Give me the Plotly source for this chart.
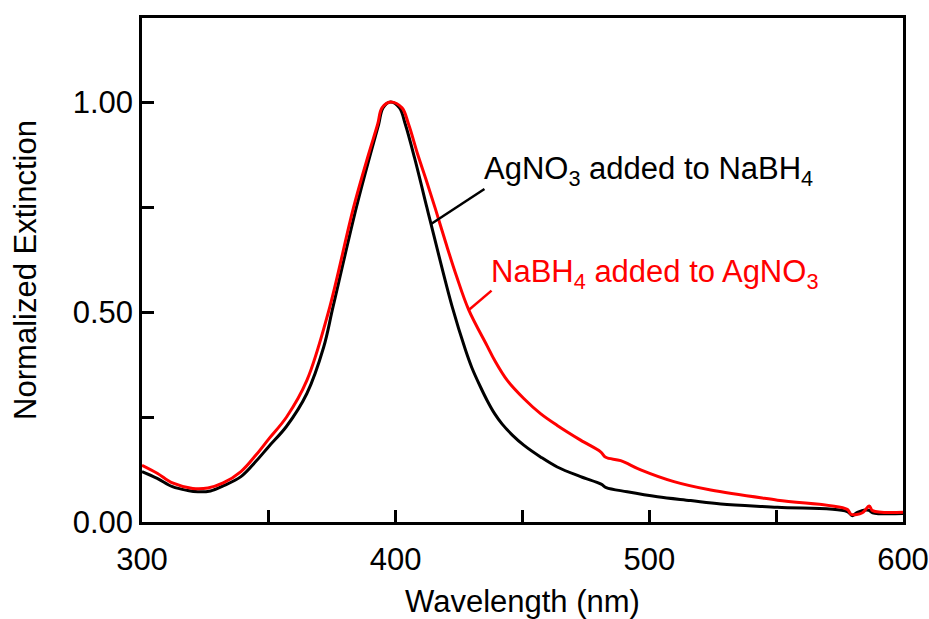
import plotly.graph_objects as go

# Wavelength (nm) / normalized extinction: AgNO3 added to NaBH4 (black)
wl_black = [300, 306, 312, 318, 322, 327, 332, 339, 345, 350, 357, 365, 371.6, 375.3,
            384.5, 390, 393.3, 395, 398, 401.5, 403.8, 407.4, 412.3, 413.7, 422.3, 427.5,
            430, 433.4, 436, 439, 442, 446, 450.5, 457.1, 463.7, 472.9, 481, 483, 491.3,
            503.2, 516.3, 528.2, 550.5, 578, 580, 582, 586.5, 588, 600]
ext_black = [0.120, 0.104, 0.084, 0.075, 0.072, 0.074, 0.086, 0.108, 0.145, 0.180, 0.228,
             0.306, 0.416, 0.512, 0.749, 0.875, 0.947, 0.986, 1.0, 0.986, 0.947, 0.868,
             0.749, 0.715, 0.512, 0.410, 0.368, 0.322, 0.290, 0.258, 0.233, 0.207, 0.183,
             0.155, 0.131, 0.108, 0.090, 0.082, 0.072, 0.060, 0.051, 0.043, 0.035, 0.025,
             0.015, 0.023, 0.028, 0.022, 0.020]

# NaBH4 added to AgNO3 (red)
wl_red = [300, 306, 312, 320, 326, 332, 339, 345, 350, 357, 365, 373.5, 383.4,
          389.3, 392.9, 394.6, 398, 402.5, 405.1, 408.7, 412, 415.7, 420, 424, 428.8, 436,
          439, 444, 450.5, 457.1, 463.7, 472.9, 480.8, 482.8, 488.7, 496.6, 509.7, 524.2,
          550.5, 578, 579.6, 584, 586.7, 588, 600]
ext_red = [0.135, 0.116, 0.093, 0.080, 0.081, 0.093, 0.120, 0.160, 0.198, 0.250, 0.337,
           0.500, 0.749, 0.875, 0.947, 0.986, 1.0, 0.986, 0.947, 0.875, 0.815, 0.745,
           0.660, 0.585, 0.505, 0.420, 0.385, 0.337, 0.294, 0.258, 0.230, 0.195, 0.167,
           0.154, 0.146, 0.124, 0.096, 0.076, 0.052, 0.030, 0.018, 0.022, 0.038, 0.027,
           0.023]

x_ticks = [300, 400, 500, 600]
y_ticks = [0.0, 0.5, 1.0]

FONT = "Liberation Sans, Arial, sans-serif"

fig = go.Figure()
fig.add_trace(go.Scatter(x=wl_black, y=ext_black, mode="lines",
                         line=dict(color="#000000", width=3, shape="spline", smoothing=1.0),
                         showlegend=False))
fig.add_trace(go.Scatter(x=wl_red, y=ext_red, mode="lines",
                         line=dict(color="#ff0000", width=3, shape="spline", smoothing=1.0),
                         showlegend=False))

# leader lines
fig.add_shape(type="line", xref="x", yref="y", x0=414.1, y0=0.71, x1=435.0, y1=0.793,
              line=dict(color="#000000", width=2.5))
fig.add_shape(type="line", xref="x", yref="y", x0=428.7, y0=0.504, x1=437.8, y1=0.551,
              line=dict(color="#ff0000", width=2.5))
# labels
fig.add_annotation(x=434.0, y=0.835, xanchor="left", yanchor="middle", showarrow=False,
                   text="AgNO<sub>3</sub> added to NaBH<sub>4</sub>",
                   font=dict(family=FONT, size=31, color="#000000"))
fig.add_annotation(x=436.6, y=0.59, xanchor="left", yanchor="middle", showarrow=False,
                   text="NaBH<sub>4</sub> added to AgNO<sub>3</sub>",
                   font=dict(family=FONT, size=31, color="#ff0000"))

fig.update_layout(
    width=929, height=619,
    margin=dict(l=142, r=26, t=18, b=97, autoexpand=False),
    paper_bgcolor="white", plot_bgcolor="white",
    font=dict(family=FONT, size=31, color="#000000"),
    xaxis=dict(range=[300, 600], tickvals=x_ticks, ticks="inside", ticklen=12,
               tickwidth=2.5, tickcolor="#000", showline=True, linewidth=2.5,
               linecolor="#000", mirror=True, showgrid=False, zeroline=False,
               automargin=False, ticklabelstandoff=8,
               minor=dict(dtick=50, tick0=300, ticks="inside", ticklen=12, tickwidth=2.5,
                          tickcolor="#000", showgrid=False),
               title=dict(text="Wavelength (nm)", font=dict(size=31), standoff=25),
               tickfont=dict(size=31)),
    yaxis=dict(range=[0, 1.2], tickvals=y_ticks, tickformat=".2f", ticks="inside",
               ticklen=12, tickwidth=2.5, tickcolor="#000", showline=True, linewidth=2.5,
               linecolor="#000", mirror=True, showgrid=False, zeroline=False,
               automargin=False,
               minor=dict(dtick=0.25, tick0=0, ticks="inside", ticklen=12, tickwidth=2.5,
                          tickcolor="#000", showgrid=False),
               title=dict(text="Normalized Extinction", font=dict(size=31), standoff=27),
               tickfont=dict(size=31)),
)

fig.write_html("out.html")
